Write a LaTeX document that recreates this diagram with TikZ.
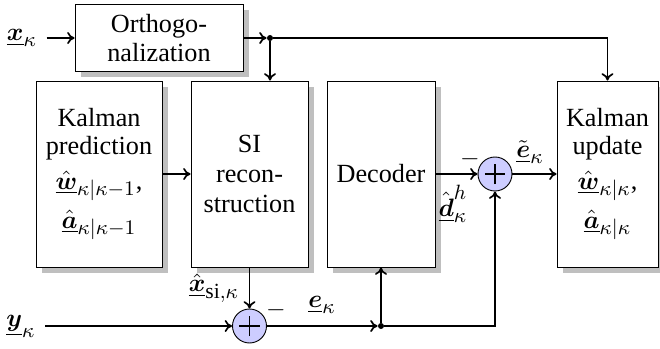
\documentclass[tikz,border=0pt]{standalone}
\usepackage{amsmath}
\usepackage[no-math]{fontspec}
\setmainfont{Liberation Serif}
\usetikzlibrary{shadows,calc,arrows.meta}
\DeclareMathSizes{11.4}{11.4}{9.4}{7.5}
\definecolor{adderfill}{RGB}{205,205,255}
\newcommand{\ubv}[1]{\underline{\boldsymbol{#1}}}
\begin{document}
\begin{tikzpicture}[x=0.4348pt,y=-0.4348pt,
  every node/.style={font=\fontsize{11.4}{12.2}\selectfont},
  blk/.style={draw,fill=white,line width=0.4pt,align=center,inner sep=0pt,
    drop shadow={shadow xshift=2.6pt,shadow yshift=-2.6pt,fill=black!25,opacity=1}},
  adder/.style={circle,draw,line width=0.4pt,fill=adderfill,inner sep=0pt,minimum size=34*0.4348pt,
    path picture={\draw[line width=0.45pt]
      ([xshift=-4.4pt]path picture bounding box.center) -- ([xshift=4.4pt]path picture bounding box.center)
      ([yshift=-4.4pt]path picture bounding box.center) -- ([yshift=4.4pt]path picture bounding box.center);}},
  jdot/.style={circle,fill=black,inner sep=0pt,minimum size=2.6pt},
  lbl/.style={inner sep=1pt},
  conn/.style={line width=0.75pt,-{To[length=3.2pt,width=5.2pt]}}]
\useasboundingbox (0,0) rectangle (660,349);
% blocks
\node[blk,minimum width=168*0.4348pt,minimum height=67*0.4348pt] (orth) at (159,38) {Orthogo-\\nalization};
\node[blk,minimum width=126*0.4348pt,minimum height=186*0.4348pt] (kp) at (99,174)
  {Kalman\\prediction\\[3pt]$\hat{\ubv{w}}_{\kappa|\kappa-1}$,\\[3pt]$\hat{\ubv{a}}_{\kappa|\kappa-1}$};
\node[blk,minimum width=117*0.4348pt,minimum height=186*0.4348pt] (si) at (249.5,174) {SI\\[0.8pt]recon-\\[0.8pt]struction};
\node[blk,minimum width=108*0.4348pt,minimum height=186*0.4348pt] (dec) at (381,174) {Decoder};
\node[blk,minimum width=101*0.4348pt,minimum height=186*0.4348pt] (ku) at (607.5,174)
  {Kalman\\update\\[3pt]$\hat{\ubv{w}}_{\kappa|\kappa}$,\\[3pt]$\hat{\ubv{a}}_{\kappa|\kappa}$};
% adders and junctions
\node[adder] (add1) at (495,174) {};
\node[adder] (add2) at (249.5,326) {};
\node[jdot] (dot1) at (270,38) {};
\node[jdot] (dot2) at (381,326) {};
% labels
\node[lbl,inner sep=4pt] (xk) at (22,38) {$\ubv{x}_\kappa$};
\node[lbl,inner sep=4pt] (yk) at (21,326) {$\ubv{y}_\kappa$};
\node[lbl] (m1) at (470,159) {$-$};
\node[lbl] (dh) at (453,204) {$\hat{\ubv{d}}^h_\kappa$};
\node[lbl] (et) at (530,152) {$\tilde{\ubv{e}}_\kappa$};
\node[lbl] (xsi) at (214,288) {$\hat{\ubv{x}}_{\text{si},\kappa}$};
\node[lbl] (m2) at (276,310) {$-$};
\node[lbl] (ek) at (322,305) {$\ubv{e}_\kappa$};
% connectors
\draw[conn] (xk) -- (orth);
\draw[conn] (orth) -- (dot1);
\draw[conn] (dot1) -- (dot1 |- si.north);
\draw[conn] (dot1) -| (ku.north);
\draw[conn] (kp) -- (si);
\draw[conn] (dec) -- (add1);
\draw[conn] (add1) -- (ku);
\draw[conn] (si) -- (add2);
\draw[conn] (yk) -- (add2);
\draw[conn] (add2) -- (dot2);
\draw[conn] (dot2) -- (dec);
\draw[conn] (dot2) -| (add1);
\end{tikzpicture}
\end{document}
